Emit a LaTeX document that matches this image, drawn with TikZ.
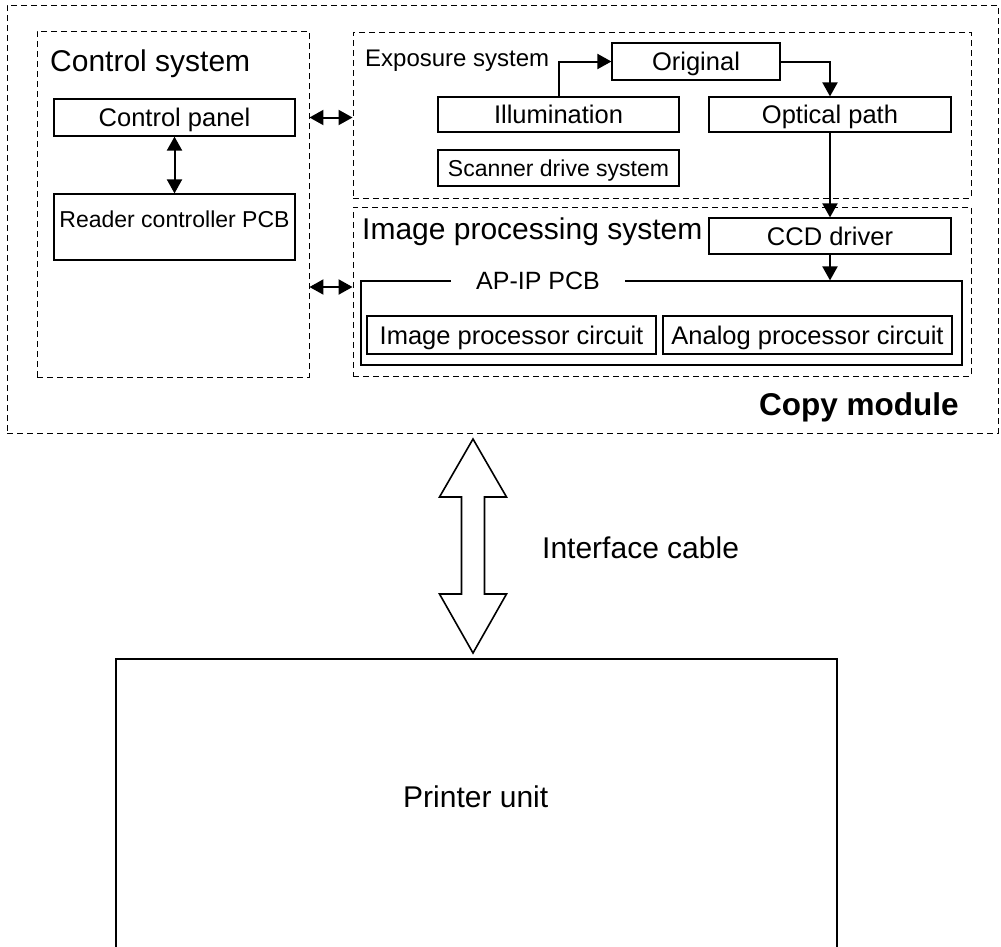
\documentclass[tikz,border=0pt]{standalone}
\usepackage{fontspec}
\setmainfont{Liberation Sans}
\usepackage{tikz}
\usetikzlibrary{arrows.meta,positioning}

\begin{document}
\begin{tikzpicture}[x=1pt, y=-1pt,
      blk/.style={draw, line width=1.2pt, inner sep=0pt, text height=18.3pt, text depth=0pt,
                  font=\fontsize{25.5}{30}\selectfont},
      grp/.style={draw, line width=0.9pt, dash pattern=on 6pt off 4pt, inner sep=0pt},
      ttl/.style={anchor=base west, inner sep=0pt, font=\fontsize{30}{36}\selectfont},
      link/.style={line width=2pt, >={Triangle[length=14pt, width=15pt]}},
      cable/.style={draw, line width=1.6pt, line join=miter}]
    \useasboundingbox (0,0) rectangle (1001,946);
    \clip (0,0) rectangle (1001,946);
    % dashed groups
    \node[grp, minimum width=991pt, minimum height=428pt] (copy) at (502.5,219) {};
    \node[grp, minimum width=272pt, minimum height=346pt] (ctrl) at (173,204) {};
    \node[grp, minimum width=618pt, minimum height=166pt] (expo) at (662,115) {};
    \node[grp, minimum width=618pt, minimum height=169pt] (imgsys) at (662,291.5) {};
    % group titles
    \node[ttl] (ctrlttl) at (50,71) {Control system};
    \node[ttl, font=\fontsize{24}{28}\selectfont] (expottl) at (365,66) {Exposure system};
    \node[ttl] (imgttl) at (362,239) {Image processing system};
    \node[ttl, font=\fontsize{31.5}{36}\selectfont\bfseries] (copyttl) at (759,415) {Copy module};
    % control system
    \node[blk, minimum width=241pt, minimum height=37pt] (panel) at (174.5,117.5) {Control panel};
    \node[blk, minimum width=241pt, minimum height=66pt, font=\fontsize{23}{28}\selectfont,
          text height=16.5pt, text depth=16.5pt] (reader) at (174.5,227) {Reader controller PCB};
    % exposure system
    \node[blk, minimum width=168pt, minimum height=37pt] (orig) at (696,61.5) {Original};
    \node[blk, minimum width=241pt, minimum height=35pt] (illum) at (558.5,114.5) {Illumination};
    \node[blk, minimum width=241pt, minimum height=36pt, font=\fontsize{23}{27}\selectfont,
          text height=16.5pt] (scan) at (558.5,168) {Scanner drive system};
    \node[blk, minimum width=242pt, minimum height=35pt] (optic) at (830,114.5) {Optical path};
    % image processing system
    \node[blk, minimum width=242pt, minimum height=36pt] (ccd) at (830,236) {CCD driver};
    \node[blk, minimum width=601pt, minimum height=84pt] (apip) at (661.5,323) {};
    \node[fill=white, inner xsep=25pt, inner ysep=2pt, text height=17.9pt, text depth=0pt,
          font=\fontsize{25}{30}\selectfont] (apipttl) at (538,280.5) {AP-IP PCB};
    \node[blk, minimum width=289pt, minimum height=38pt] (improc) at (511.5,335) {Image processor circuit};
    \node[blk, minimum width=289pt, minimum height=38pt] (analog) at (807.5,335) {Analog processor circuit};
    % printer
    \node[draw, line width=2pt, minimum width=721pt, minimum height=341pt] (printer) at (476.5,829.5) {};
    \node[ttl] (prnttl) at (403,807) {Printer unit};
    \node[ttl] (cablettl) at (542,558) {Interface cable};
    % connections
    \draw[link, <->] (panel) -- (reader);
    \draw[link, <->] (ctrl.east |- panel) -- (expo.west |- panel);
    \draw[link, <->] (ctrl.east |- 0,287) -- (imgsys.west |- 0,287);
    \draw[link, ->] (illum.north) |- (orig.west);
    \draw[link, ->] (orig.east) -| (optic.north);
    \draw[link, ->] (optic) -- (ccd);
    \draw[link, ->] (ccd.south) -- (ccd.south |- apip.north);
    % interface cable
    \draw[cable] (473,439) -- (506.5,497) -- (484.5,497) -- (484.5,594) -- (506.5,594)
      -- (473,653) -- (439.5,594) -- (461.5,594) -- (461.5,497) -- (439.5,497) -- cycle;
  \end{tikzpicture}
\end{document}
